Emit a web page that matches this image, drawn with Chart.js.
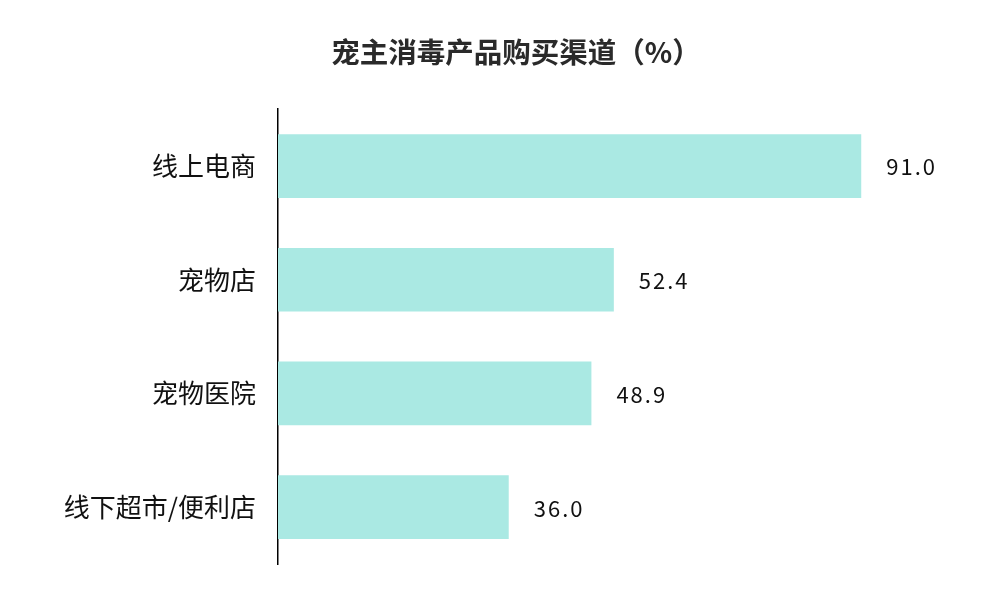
<!DOCTYPE html>
<html>
<head>
<meta charset="utf-8">
<script src="https://cdn.jsdelivr.net/npm/chart.js@4"></script>
<style>
  html, body { margin: 0; padding: 0; background: #fff; }
  #wrap { width: 1008px; height: 596px; }
</style>
</head>
<body>
<div id="wrap"><canvas id="c"></canvas></div>
<script>
// data
let chans = ['线上电商', '宠物店', '宠物医院', '线下超市/便利店'];
let pct = [91.0, 52.4, 48.9, 36.0];
let ttl = '宠主消毒产品购买渠道（%）';

let cjk = '"Noto Sans CJK SC", "Noto Sans", sans-serif';

// value labels to the right of each bar
let valLbl = {
    id: 'valLbl',
    afterDatasetsDraw(chart) {
        let c = chart.ctx;
        let meta = chart.getDatasetMeta(0);
        c.save();
        c.font = '22px ' + cjk;
        c.fillStyle = '#111';
        c.textAlign = 'left';
        c.textBaseline = 'middle';
        if ('letterSpacing' in c) c.letterSpacing = '2px';
        meta.data.forEach((b, i) => {
            c.fillText(pct[i].toFixed(1), b.x + 25, b.y + 1);
        });
        c.restore();
    }
};

new Chart(document.getElementById('c'), {
    type: 'bar',
    data: {
        labels: chans,
        datasets: [{
            data: pct,
            backgroundColor: '#aae9e3',
            categoryPercentage: 1,
            barPercentage: 0.56
        }]
    },
    options: {
        indexAxis: 'y',
        responsive: true,
        maintainAspectRatio: false,
        animation: false,
        layout: { padding: { left: 24, right: 0, top: 0, bottom: 32 } },
        scales: {
            x: { display: false, min: 0, max: 113.9 },
            y: {
                grid: { display: false, drawTicks: false },
                border: { color: '#000', width: 1.5 },
                ticks: { color: '#111', font: { family: cjk, size: 26 }, padding: 22 },
                afterFit(s) {
                    s.width = 254;
                    s.paddingTop = 0;
                    s.paddingBottom = 0;
                }
            }
        },
        plugins: {
            legend: { display: false },
            tooltip: { enabled: false },
            title: {
                display: true,
                text: ttl,
                color: '#2a2a2a',
                font: { family: cjk, size: 28.5, weight: 'bold' },
                padding: { top: 35, bottom: 40 }
            }
        }
    },
    plugins: [valLbl]
});
</script>
</body>
</html>
